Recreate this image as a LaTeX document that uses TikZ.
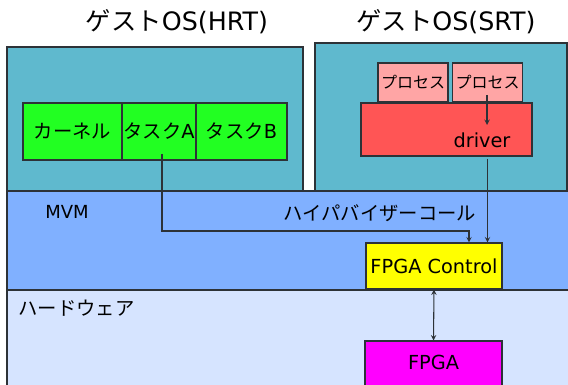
\documentclass[tikz,border=0pt]{standalone}
\usepackage{fontspec}
\setmainfont{DejaVu Sans}
\newfontfamily\jp{Noto Sans CJK JP}
\usepackage{tikz}
\usetikzlibrary{arrows, arrows.meta}

\definecolor{guestcol}{RGB}{95,185,206}
\definecolor{mvmcol}{RGB}{128,176,255}
\definecolor{hwcol}{RGB}{214,228,255}
\definecolor{taskcol}{RGB}{34,255,34}
\definecolor{proccol}{RGB}{255,165,165}
\definecolor{drvcol}{RGB}{255,85,85}
\definecolor{ctlcol}{RGB}{255,255,0}
\definecolor{fpgacol}{RGB}{255,0,255}
\definecolor{edgecol}{RGB}{45,50,55}

\tikzset{
	box/.style={draw=edgecol, line width=0.8pt, inner sep=0pt, font=\fontsize{14.5}{16}\selectfont},
	band/.style={draw=edgecol, line width=0.8pt},
	link/.style={draw=edgecol, line width=0.8pt}
}

\begin{document}
\begin{tikzpicture}[>=stealth, x=0.75pt, y=-0.75pt]
	\useasboundingbox (0,0) rectangle (568,385);
	
	%layers
	\draw[band, fill=hwcol]    (7,290) rectangle (575,400);	%hardware
	\draw[band, fill=mvmcol]   (7,191) rectangle (575,290);	%MVM
	\draw[band, fill=guestcol] (7,47)  rectangle (303,191);	%guest OS (HRT)
	\draw[band, fill=guestcol] (315,43) rectangle (567,191);	%guest OS (SRT)
	
	%boxes
	\node[box, fill=taskcol, minimum width=99*0.75pt, minimum height=57*0.75pt]  (kernel) at (72.5,131.5) {\jp カーネル};
	\node[box, fill=taskcol, minimum width=74*0.75pt, minimum height=57*0.75pt]  (taskA)  at (159,131.5)  {{\jp タスク}A};
	\node[box, fill=taskcol, minimum width=91*0.75pt, minimum height=57*0.75pt]  (taskB)  at (241.5,131.5) {{\jp タスク}B};
	\node[box, fill=proccol, minimum width=70*0.75pt, minimum height=39*0.75pt, font=\fontsize{12}{14}\selectfont] (procA) at (413,82.5) {\jp プロセス};
	\node[box, fill=proccol, minimum width=70*0.75pt, minimum height=39*0.75pt, font=\fontsize{12}{14}\selectfont] (procB) at (487.5,82.5) {\jp プロセス};
	\node[box, fill=drvcol,  minimum width=171*0.75pt, minimum height=53*0.75pt] (driver) at (446.5,129.5) {};
	\node[box, fill=ctlcol,  minimum width=136*0.75pt, minimum height=46*0.75pt] (fpgactl) at (434,266)   {FPGA Control};
	\node[box, fill=fpgacol, minimum width=137*0.75pt, minimum height=58*0.75pt] (fpga)   at (433.5,370)  {};
	
	%labels
	\node[font=\fontsize{19}{22}\selectfont] (hrtlabel) at (177,22)  {{\jp ゲスト}OS(HRT)};
	\node[font=\fontsize{19}{22}\selectfont] (srtlabel) at (446,22)  {{\jp ゲスト}OS(SRT)};
	\node[box, draw=none] (drvtext)  at (482,140) {driver};
	\node[box, draw=none] (fpgatext) at (433.5,362) {FPGA};
	\node[font=\fontsize{13.5}{16}\selectfont] (mvmlabel) at (67,212) {MVM};
	\node[box, draw=none] (hcall) at (380,213) {\jp ハイパバイザーコール};
	\node[box, draw=none, anchor=west] (hwlabel) at (18,308) {\jp ハードウェア};
	
	%connectors
	\coordinate (procout) at (487,95);
	\coordinate (drvin)   at (487,125);
	\coordinate (bend)    at (469,231);
	\draw[link,->] (procout) -- (drvin);
	\draw[link,->] ([xshift=2.25pt,yshift=5pt]taskA.south) |- (bend) -- (bend |- fpgactl.north);
	\draw[link,->] ([yshift=-1.5pt]driver.south -| procB.center) -- (fpgactl.north -| procB.center);
	\draw[link,<->] (fpgactl.south) -- (fpga.north);
\end{tikzpicture}
\end{document}
